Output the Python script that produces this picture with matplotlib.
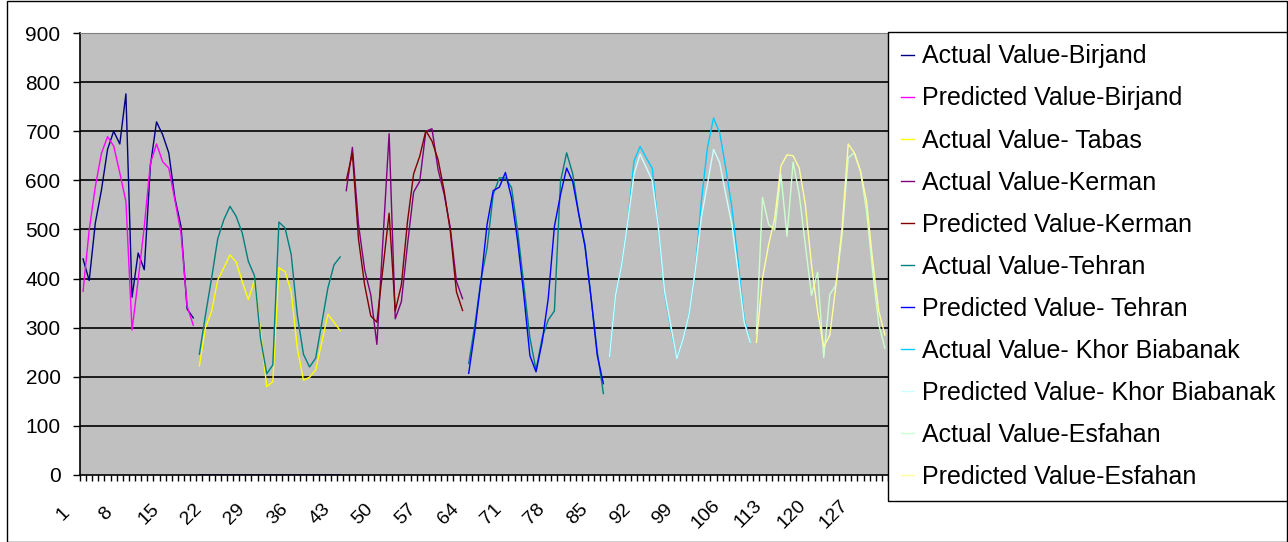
import numpy as np
import matplotlib
matplotlib.use('Agg')
import matplotlib.pyplot as plt
from matplotlib.patches import Rectangle
from matplotlib.transforms import ScaledTranslation

plt.rcParams['font.family'] = ['Liberation Sans', 'DejaVu Sans']

N_CATS = 132

# 系列数据 (起始类别, 数值)
birjand_actual_start = 1
birjand_actual = [440, 396, 513, 580, 663, 700, 674, 776, 362, 452, 418, 630, 719, 693,
                  656, 564, 506, 338, 320]
birjand_pred_start = 1
birjand_pred = [374, 499, 587, 655, 689, 670, 615, 557, 295, 397, 506, 635, 674, 638,
                625, 560, 492, 344, 305]

tabas_actual_start = 20
tabas_actual = [222, 300, 333, 397, 422, 448, 434, 394, 357, 397, 292, 180, 190, 422,
                414, 373, 258, 193, 199, 214, 271, 327, 311, 294]

kerman_actual_start = 44
kerman_actual = [579, 667, 510, 418, 367, 266, 480, 695, 318, 353, 469, 576, 598, 700,
                 705, 622, 571, 503, 394, 359]
kerman_pred_start = 44
kerman_pred = [600, 655, 480, 387, 324, 311, 422, 533, 334, 387, 516, 613, 649, 701,
               680, 642, 578, 496, 373, 335]

tehran_actual_start_a = 20
tehran_actual_a = [246, 326, 401, 481, 520, 547, 527, 493, 435, 406, 278, 206, 224, 515,
                   503, 449, 326, 246, 220, 238, 309, 381, 428, 444]
tehran_actual_start_b = 64
tehran_actual_b = [227, 305, 397, 462, 571, 605, 605, 585, 497, 388, 279, 214, 279, 316,
                   334, 598, 656, 613, 530, 469, 360, 251, 166]

tehran_pred_start_a = 20
tehran_pred_a = [0, 0, 0, 0, 0, 0, 0, 0, 0, 0, 0, 0, 0, 0, 0, 0, 0, 0, 0, 0, 0, 0, 0, 0]
tehran_pred_start_b = 64
tehran_pred_b = [207, 293, 394, 510, 579, 586, 616, 564, 476, 367, 243, 210, 271, 360,
                 506, 571, 625, 597, 530, 465, 360, 244, 186]

khor_actual_start = 87
khor_actual = [241, 367, 429, 517, 639, 669, 646, 624, 500, 370, 300, 237, 276, 327,
               415, 557, 666, 727, 697, 625, 544, 435, 319, 270]
khor_pred_start = 87
khor_pred = [241, 367, 429, 517, 612, 653, 626, 599, 503, 374, 306, 237, 276, 327,
             415, 524, 592, 663, 636, 571, 510, 415, 312, 270]

esfahan_actual_start = 111
esfahan_actual = [288, 565, 510, 499, 613, 486, 637, 571, 469, 366, 413, 239, 368, 387,
                  489, 646, 656, 619, 537, 414, 306, 258]
esfahan_pred_start = 111
esfahan_pred = [270, 401, 469, 523, 629, 652, 650, 625, 550, 428, 333, 261, 285, 387,
                503, 674, 656, 619, 557, 435, 333, 285]

labels = ['Actual Value-Birjand', 'Predicted Value-Birjand', 'Actual Value- Tabas',
          'Actual Value-Kerman', 'Predicted Value-Kerman', 'Actual Value-Tehran',
          'Predicted Value- Tehran', 'Actual Value- Khor Biabanak',
          'Predicted Value- Khor Biabanak', 'Actual Value-Esfahan',
          'Predicted Value-Esfahan']
colors = ['#000080', '#FF00FF', '#FFFF00', '#800080', '#800000', '#008080',
          '#0000FF', '#00CCFF', '#CCFFFF', '#CCFFCC', '#FFFF99']

segments = [
    [(birjand_actual_start, birjand_actual)],
    [(birjand_pred_start, birjand_pred)],
    [(tabas_actual_start, tabas_actual)],
    [(kerman_actual_start, kerman_actual)],
    [(kerman_pred_start, kerman_pred)],
    [(tehran_actual_start_a, tehran_actual_a), (tehran_actual_start_b, tehran_actual_b)],
    [(tehran_pred_start_a, tehran_pred_a), (tehran_pred_start_b, tehran_pred_b)],
    [(khor_actual_start, khor_actual)],
    [(khor_pred_start, khor_pred)],
    [(esfahan_actual_start, esfahan_actual)],
    [(esfahan_pred_start, esfahan_pred)],
]

x = np.arange(1, N_CATS + 1)

W, H = 1288, 542
fig = plt.figure(figsize=(W / 100, H / 100), dpi=100)
ax = fig.add_axes([80 / W, 1 - 475 / H, 808 / W, 442 / H])
ax.set_facecolor('#C0C0C0')

for y in range(100, 1000, 100):
    ax.axhline(y, color='black', lw=1.2, zorder=1)

for lab, col, segs in zip(labels, colors, segments):
    y = np.full(N_CATS, np.nan)
    for start, vals in segs:
        y[start - 1:start - 1 + len(vals)] = vals
    ax.plot(x, y, color=col, lw=1.0, label=lab, zorder=2)

ax.set_xlim(0.5, N_CATS + 0.5)
ax.set_ylim(0, 900)
ax.set_yticks(range(0, 1000, 100))
ax.tick_params(axis='y', labelsize=15, length=5, width=1, direction='out', pad=9)

ax.set_xticks(np.arange(1, N_CATS + 1, 7))
ax.set_xticklabels([str(v) for v in range(1, N_CATS + 1, 7)], rotation=45,
                   ha='center', va='center', rotation_mode='anchor')
ax.set_xticks(np.arange(0.5, N_CATS + 1, 1), minor=True)
ax.tick_params(axis='x', which='major', length=0, labelsize=14, pad=0)
ax.tick_params(axis='x', which='minor', length=4, width=1, direction='out')
shift = ScaledTranslation(-0.20, -0.39, fig.dpi_scale_trans)
for lbl in ax.get_xticklabels():
    lbl.set_transform(lbl.get_transform() + shift)

for s in ['top', 'right']:
    ax.spines[s].set_color('#808080')
for s in ['left', 'bottom']:
    ax.spines[s].set_color('black')
    ax.spines[s].set_linewidth(1.2)

leg = ax.legend(loc='upper left', bbox_to_anchor=(888 / W, 1 - 32 / H),
                bbox_transform=fig.transFigure, borderaxespad=0, fontsize=18,
                frameon=True, fancybox=False, edgecolor='black', framealpha=1,
                handlelength=0.55, handletextpad=0.3, labelspacing=0.72,
                borderpad=0.5)
leg.get_frame().set_linewidth(1.0)

fig.patches.append(Rectangle((7 / W, 0.5 / H), (W - 8) / W, (H - 1.5) / H,
                             transform=fig.transFigure, fill=False,
                             edgecolor='black', lw=1))

fig.savefig('out.png', dpi=100)
